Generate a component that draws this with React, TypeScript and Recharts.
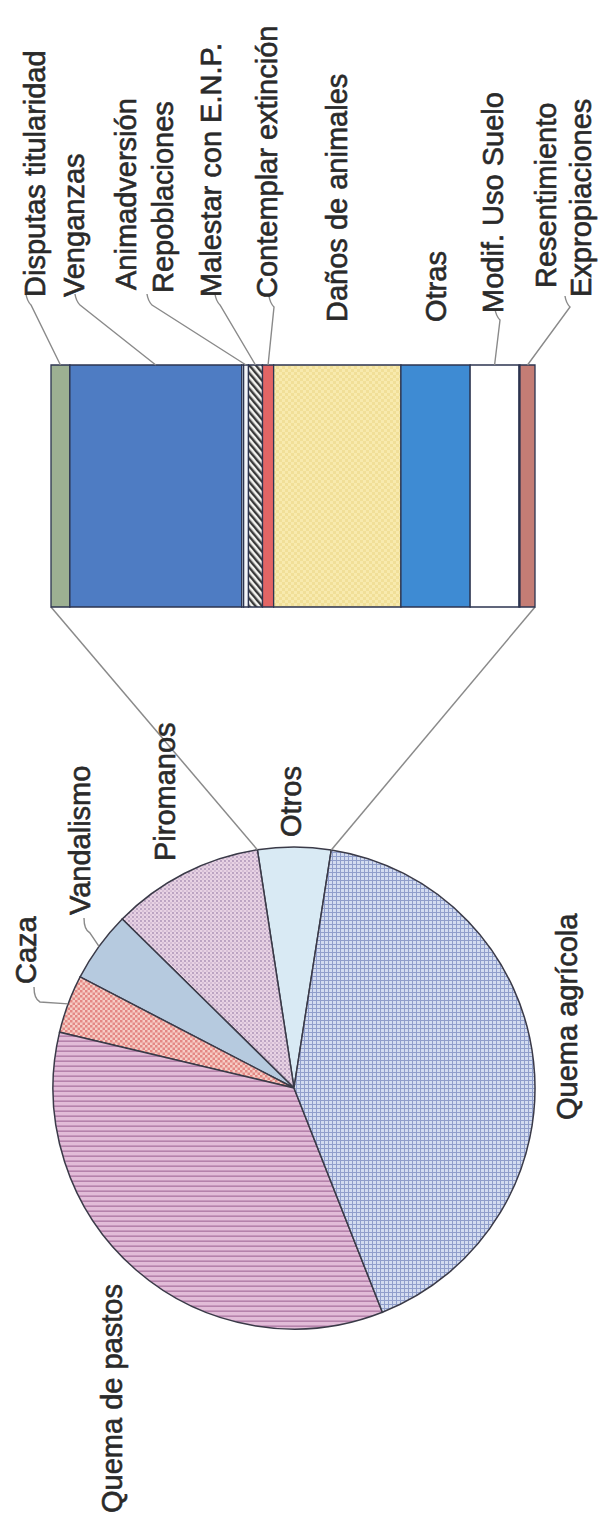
import React from 'react';
import { BarChart, Bar, XAxis, YAxis, PieChart, Pie, Cell } from 'recharts';

// ---------- data ----------
const pieCategories = ['Otros', 'Piromanos', 'Vandalismo', 'Caza', 'Quema de pastos', 'Quema agrícola'];
const pieValues = [4.9, 10.2, 4.75, 3.9, 34.7, 41.55];

const barCategories = [
  'Disputas titularidad',
  'Venganzas',
  'Animadversión',
  'Repoblaciones',
  'Malestar con E.N.P.',
  'Contemplar extinción',
  'Daños de animales',
  'Otras',
  'Modif. Uso Suelo',
  'Resentimiento',
  'Expropiaciones',
];
const barValues = [3.9, 35.5, 0.4, 1.0, 2.9, 2.3, 26.3, 14.3, 10.1, 0.2, 3.1];

// ---------- layout / style ----------
const W = 598;
const H = 1525;
const BAR_H = 640;
const barMargin = { top: 365, right: 63, bottom: 33, left: 51 };
const BAR_LEFT = barMargin.left;
const BAR_RIGHT = W - barMargin.right;
const BAR_BOTTOM = BAR_H - barMargin.bottom;

const PIE_CX = 294;
const PIE_CY = 1088;
const PIE_R = 241;
const PIE_START = 81.1;

const FONT = '"Liberation Sans", Arial, Helvetica, sans-serif';
const TEXT_COLOR = '#2a2a2a';
const LINE_COLOR = '#8a8a8a';

const pieFills = ['#d9eaf4', 'url(#patPiro)', '#b6cadf', 'url(#patCaza)', 'url(#patPastos)', 'url(#patAgri)'];
const barFills = ['#9db092', '#4e7cc3', '#c8d8ea', '#f3f5f9', 'url(#patHatch)', '#e26565', 'url(#patDanos)', '#3e8bd3', '#ffffff', '#d9a3a0', '#c47d75'];

// label placement (text baseline x, text start y) and leader start points
const barLabelBaseX: (number | null)[] = [45, 84, 136, 173, 221, 277, null, null, 503, 556, 591];
const barLabelStartY = [297, 297, 290, 293, 297, 298, 322, 322, 313, 288, 297];
const barLeaderFrom: ([number, number] | null)[] = [
  [29, 301], [78, 301], null, [150, 301], [218, 301], [272, 303], null, null, [498, 316], null, [568, 303],
];

const pieLabelBaseX = [301, 175, 90, 36, 122, 577];
const pieLabelStartY = [837, 861, 915, 984, 1513, 1120];
const pieLeaderFrom: ([number, number] | null)[] = [null, null, [84, 918], [34, 987], null, null];

const barTotal = barValues.reduce((a, b) => a + b, 0);
const barKeys = barCategories.map((_, i) => `k${i}`);
const barRow: Record<string, number | string> = { name: 'Otros' };
barKeys.forEach((k, i) => {
  barRow[k] = barValues[i];
});
const barData = [barRow];

const pieData = pieCategories.map((name, i) => ({ name, value: pieValues[i] }));

const RAD = Math.PI / 180;
const rim = (cx: number, cy: number, r: number, a: number): [number, number] => [
  cx + r * Math.cos(-a * RAD),
  cy + r * Math.sin(-a * RAD),
];

const labelText = (name: string, bx: number, sy: number, size: number) => (
  <text
    transform={`translate(${bx},${sy}) rotate(-90)`}
    x={0}
    y={0}
    fontSize={size}
    fontFamily={FONT}
    fill={TEXT_COLOR}
    stroke={TEXT_COLOR}
    strokeWidth={0.6}
    textAnchor="start"
  >
    {name}
  </text>
);

function makeBarLabel(i: number) {
  return (props: any) => {
    const vb = props.viewBox || {};
    const x = Number(props.x ?? vb.x);
    const y = Number(props.y ?? vb.y);
    const w = Number(props.width ?? vb.width);
    const mid = x + w / 2;
    const bx = barLabelBaseX[i] ?? mid + 10;
    const sy = barLabelStartY[i];
    const from = barLeaderFrom[i];
    return (
      <g key={`bl-${i}`}>
        {from && (
          <path
            d={`M${from[0] - 3},${from[1] - 7} Q${from[0] - 2},${from[1]} ${from[0] + 2},${from[1] + 4} L${mid},${y}`}
            fill="none"
            stroke={LINE_COLOR}
            strokeWidth={1.4}
          />
        )}
        {labelText(barCategories[i], bx, sy, 29)}
      </g>
    );
  };
}

function renderPieLabel(props: any) {
  const index: number = props.index;
  const cx = Number(props.cx);
  const cy = Number(props.cy);
  const r = Number(props.outerRadius);
  let start = props.startAngle;
  let end = props.endAngle;
  if (start === undefined || end === undefined) {
    const before = pieValues.slice(0, index).reduce((a, b) => a + b, 0);
    const tot = pieValues.reduce((a, b) => a + b, 0);
    start = PIE_START + (before / tot) * 360;
    end = start + (pieValues[index] / tot) * 360;
  }
  const mid = (start + end) / 2;
  const from = pieLeaderFrom[index];
  const rp = rim(cx, cy, r, mid);
  const elements: React.ReactNode[] = [];
  if (index === 0) {
    const a = rim(cx, cy, r, start);
    const b = rim(cx, cy, r, end);
    elements.push(
      <line key="c1" x1={a[0]} y1={a[1]} x2={BAR_RIGHT} y2={BAR_BOTTOM} stroke={LINE_COLOR} strokeWidth={1.5} />,
      <line key="c2" x1={b[0]} y1={b[1]} x2={BAR_LEFT} y2={BAR_BOTTOM} stroke={LINE_COLOR} strokeWidth={1.5} />
    );
  }
  if (from) {
    elements.push(
      <path
        key="ld"
        d={`M${from[0]},${from[1]} Q${from[0]},${from[1] + 12} ${from[0] + 6},${from[1] + 15} L${rp[0]},${rp[1]}`}
        fill="none"
        stroke={LINE_COLOR}
        strokeWidth={1.4}
      />
    );
  }
  return (
    <g key={`pl-${index}`}>
      {elements}
      {labelText(pieCategories[index], pieLabelBaseX[index], pieLabelStartY[index], 29)}
    </g>
  );
}

export default function App() {
  return (
    <div style={{ position: 'absolute', left: 0, top: 0, width: W, height: H, background: '#ffffff', overflow: 'hidden' }}>
      <div style={{ position: 'absolute', left: 0, top: 0 }}>
        <PieChart width={W} height={H} margin={{ top: 0, right: 0, bottom: 0, left: 0 }}>
          <defs>
            <pattern id="patAgri" width="4" height="4" patternUnits="userSpaceOnUse">
              <rect width="4" height="4" fill="#d3dcf0" />
              <path d="M0 0.5H4M0.5 0V4" stroke="#909ecb" strokeWidth="1" />
            </pattern>
            <pattern id="patPastos" width="6" height="5" patternUnits="userSpaceOnUse">
              <rect width="6" height="5" fill="#e2bcd8" />
              <path d="M0 1.2H6" stroke="#b582ab" strokeWidth="1.6" />
            </pattern>
            <pattern id="patCaza" width="5" height="5" patternUnits="userSpaceOnUse">
              <rect width="5" height="5" fill="#f6cec6" />
              <rect width="2.5" height="2.5" fill="#e48884" />
              <rect x="2.5" y="2.5" width="2.5" height="2.5" fill="#e48884" />
            </pattern>
            <pattern id="patPiro" width="4" height="4" patternUnits="userSpaceOnUse">
              <rect width="4" height="4" fill="#e8d3e4" />
              <circle cx="1" cy="1" r="0.9" fill="#a88fb3" />
              <circle cx="3" cy="3" r="0.8" fill="#bfa6c6" />
            </pattern>
          </defs>
          <Pie
            data={pieData}
            dataKey="value"
            nameKey="name"
            cx={PIE_CX}
            cy={PIE_CY}
            outerRadius={PIE_R}
            innerRadius={0}
            startAngle={PIE_START}
            endAngle={PIE_START + 360}
            isAnimationActive={false}
            label={renderPieLabel}
            labelLine={false}
            stroke="#3a3a48"
            strokeWidth={1.5}
          >
            {pieData.map((_, i) => (
              <Cell key={`pc-${i}`} fill={pieFills[i]} stroke="#3a3a48" strokeWidth={1.5} />
            ))}
          </Pie>
        </PieChart>
      </div>
      <div style={{ position: 'absolute', left: 0, top: 0 }}>
        <BarChart
          width={W}
          height={BAR_H}
          data={barData}
          layout="vertical"
          margin={barMargin}
          barCategoryGap={0}
          barGap={0}
        >
          <defs>
            <pattern id="patHatch" width="5" height="5" patternUnits="userSpaceOnUse" patternTransform="rotate(-40)">
              <rect width="5" height="5" fill="#f4f4f0" />
              <rect width="2.4" height="5" fill="#3a3a3a" />
            </pattern>
            <pattern id="patDanos" width="6" height="6" patternUnits="userSpaceOnUse">
              <rect width="6" height="6" fill="#f8eaae" />
              <rect width="3" height="3" fill="#f1df98" />
              <rect x="3" y="3" width="3" height="3" fill="#f1df98" />
            </pattern>
          </defs>
          <XAxis type="number" domain={[0, barTotal]} hide />
          <YAxis type="category" dataKey="name" hide />
          {barKeys.map((k, i) => (
            <Bar
              key={k}
              dataKey={k}
              stackId="s"
              fill={barFills[i]}
              stroke="#2c3450"
              strokeWidth={1.3}
              isAnimationActive={false}
              label={makeBarLabel(i)}
            />
          ))}
        </BarChart>
      </div>
    </div>
  );
}
